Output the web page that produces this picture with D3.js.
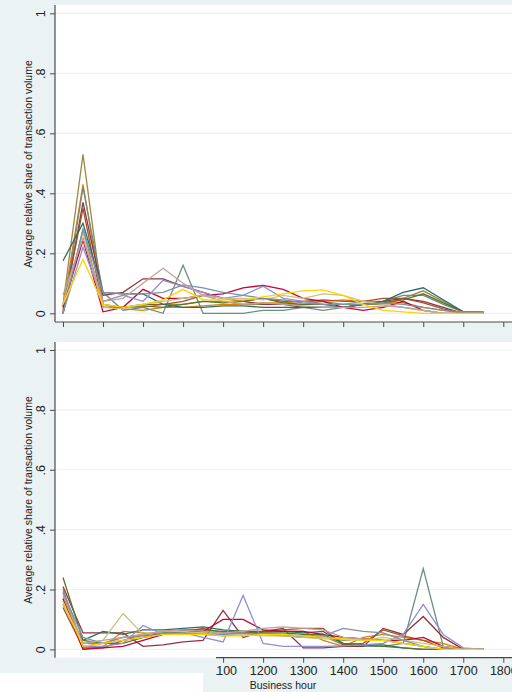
<!DOCTYPE html>
<html>
<head>
<meta charset="utf-8">
<script src="https://cdn.jsdelivr.net/npm/d3@7"></script>
<style>
  html, body { margin: 0; padding: 0; background: #ffffff; }
  svg { display: block; font-family: "Liberation Sans", Arial, sans-serif; }
</style>
</head>
<body>
<svg id="chart" width="512" height="692"></svg>
<script>
// Half-hour business slots (hhmm)
const hours = [700, 750, 800, 850, 900, 950, 1000, 1050, 1100, 1150, 1200, 1250,
               1300, 1350, 1400, 1450, 1500, 1550, 1600, 1650, 1700, 1750];
const xTicks = [700, 800, 900, 1000, 1100, 1200, 1300, 1400, 1500, 1600, 1700, 1800];
const yTicks = [0, 0.2, 0.4, 0.6, 0.8, 1];
const yTickLabels = ["0", ".2", ".4", ".6", ".8", "1"];

// Stata s2color line colours, one per series
const seriesColors = ["#9c8847", "#e37e00", "#6e8e84", "#90353b", "#a0522d", "#2d6d66",
                      "#55752f", "#c10534", "#938dd2", "#cac27e", "#7b92a8", "#bfa19c", "#ffd200"];

// Upper panel: average relative share of transaction volume by half hour
const upperBrown    = [0.03, 0.53, 0.03, 0.02, 0.02, 0.03, 0.03, 0.04, 0.04, 0.03, 0.03, 0.03, 0.03, 0.04, 0.03, 0.03, 0.03, 0.05, 0.075, 0.04, 0.005, 0.005];
const upperOrange   = [0.02, 0.43, 0.03, 0.015, 0.01, 0.02, 0.02, 0.025, 0.03, 0.03, 0.035, 0.035, 0.04, 0.04, 0.045, 0.04, 0.04, 0.035, 0.02, 0.01, 0.0, 0.0];
const upperTeal     = [0.0, 0.42, 0.07, 0.01, 0.02, 0.0, 0.16, 0.0, 0.0, 0.0, 0.01, 0.01, 0.02, 0.01, 0.02, 0.03, 0.04, 0.06, 0.06, 0.03, 0.005, 0.005];
const upperMaroon   = [0.0, 0.37, 0.06, 0.07, 0.115, 0.115, 0.09, 0.07, 0.05, 0.04, 0.03, 0.03, 0.02, 0.02, 0.02, 0.03, 0.04, 0.05, 0.04, 0.02, 0.0, 0.0];
const upperSienna   = [0.01, 0.35, 0.02, 0.02, 0.03, 0.03, 0.04, 0.06, 0.05, 0.04, 0.05, 0.04, 0.04, 0.045, 0.04, 0.04, 0.05, 0.05, 0.035, 0.015, 0.0, 0.0];
const upperEmerald  = [0.175, 0.30, 0.07, 0.065, 0.065, 0.03, 0.02, 0.02, 0.025, 0.025, 0.02, 0.02, 0.02, 0.02, 0.02, 0.03, 0.04, 0.07, 0.085, 0.045, 0.005, 0.005];
const upperGreen    = [0.0, 0.28, 0.02, 0.02, 0.025, 0.02, 0.03, 0.04, 0.035, 0.04, 0.05, 0.035, 0.03, 0.03, 0.02, 0.03, 0.035, 0.045, 0.065, 0.035, 0.005, 0.005];
const upperRed      = [0.02, 0.245, 0.005, 0.02, 0.08, 0.05, 0.05, 0.06, 0.065, 0.085, 0.093, 0.08, 0.05, 0.04, 0.02, 0.01, 0.02, 0.04, 0.01, 0.0, 0.0, 0.0];
const upperLavender = [0.0, 0.22, 0.04, 0.06, 0.04, 0.11, 0.09, 0.07, 0.05, 0.06, 0.09, 0.05, 0.04, 0.03, 0.03, 0.04, 0.03, 0.02, 0.01, 0.0, 0.0, 0.0];
const upperKhaki    = [0.03, 0.27, 0.02, 0.015, 0.03, 0.04, 0.05, 0.06, 0.05, 0.05, 0.045, 0.06, 0.05, 0.065, 0.06, 0.04, 0.03, 0.02, 0.01, 0.0, 0.0, 0.0];
const upperBlue     = [0.0, 0.28, 0.07, 0.065, 0.065, 0.07, 0.095, 0.085, 0.07, 0.06, 0.05, 0.045, 0.035, 0.03, 0.03, 0.03, 0.035, 0.03, 0.02, 0.01, 0.005, 0.005];
const upperRose     = [0.06, 0.25, 0.04, 0.05, 0.10, 0.15, 0.10, 0.06, 0.04, 0.03, 0.035, 0.03, 0.025, 0.02, 0.02, 0.02, 0.025, 0.02, 0.01, 0.0, 0.0, 0.0];
const upperGold     = [0.03, 0.18, 0.03, 0.02, 0.03, 0.045, 0.08, 0.045, 0.045, 0.045, 0.055, 0.065, 0.075, 0.078, 0.06, 0.03, 0.01, 0.005, 0.0, 0.0, 0.0, 0.0];

// Lower panel
const lowerBrown    = [0.20, 0.01, 0.02, 0.04, 0.045, 0.05, 0.055, 0.05, 0.045, 0.05, 0.05, 0.045, 0.04, 0.04, 0.03, 0.035, 0.03, 0.02, 0.01, 0.0, 0.0, 0.0];
const lowerOrange   = [0.16, 0.0, 0.01, 0.06, 0.055, 0.05, 0.06, 0.055, 0.05, 0.05, 0.06, 0.06, 0.06, 0.03, 0.01, 0.04, 0.05, 0.04, 0.03, 0.02, 0.0, 0.0];
const lowerTeal     = [0.17, 0.02, 0.02, 0.03, 0.05, 0.06, 0.065, 0.06, 0.055, 0.06, 0.055, 0.05, 0.04, 0.045, 0.015, 0.01, 0.01, 0.02, 0.27, 0.01, 0.0, 0.0];
const lowerMaroon   = [0.21, 0.055, 0.055, 0.055, 0.01, 0.015, 0.025, 0.03, 0.13, 0.04, 0.06, 0.07, 0.005, 0.005, 0.01, 0.01, 0.07, 0.05, 0.11, 0.04, 0.0, 0.0];
const lowerSienna   = [0.14, 0.005, 0.005, 0.03, 0.04, 0.05, 0.06, 0.07, 0.055, 0.055, 0.06, 0.065, 0.07, 0.07, 0.015, 0.02, 0.065, 0.045, 0.03, 0.005, 0.0, 0.0];
const lowerEmerald  = [0.15, 0.03, 0.06, 0.05, 0.065, 0.065, 0.07, 0.075, 0.065, 0.06, 0.06, 0.06, 0.055, 0.06, 0.02, 0.015, 0.015, 0.005, 0.0, 0.0, 0.0, 0.0];
const lowerGreen    = [0.24, 0.03, 0.02, 0.02, 0.04, 0.055, 0.065, 0.065, 0.06, 0.06, 0.055, 0.055, 0.05, 0.05, 0.02, 0.015, 0.01, 0.005, 0.0, 0.0, 0.0, 0.0];
const lowerRed      = [0.17, 0.0, 0.005, 0.01, 0.03, 0.05, 0.06, 0.06, 0.10, 0.10, 0.065, 0.06, 0.06, 0.05, 0.04, 0.035, 0.03, 0.03, 0.04, 0.01, 0.0, 0.0];
const lowerLavender = [0.19, 0.01, 0.01, 0.02, 0.08, 0.05, 0.055, 0.04, 0.025, 0.18, 0.02, 0.01, 0.01, 0.01, 0.012, 0.015, 0.02, 0.05, 0.15, 0.05, 0.005, 0.0];
const lowerKhaki    = [0.15, 0.02, 0.03, 0.12, 0.05, 0.06, 0.06, 0.055, 0.05, 0.05, 0.045, 0.045, 0.04, 0.035, 0.035, 0.03, 0.04, 0.03, 0.02, 0.01, 0.0, 0.0];
const lowerBlue     = [0.19, 0.04, 0.02, 0.04, 0.05, 0.055, 0.055, 0.05, 0.05, 0.055, 0.05, 0.05, 0.045, 0.045, 0.07, 0.06, 0.055, 0.03, 0.01, 0.0, 0.0, 0.0];
const lowerRose     = [0.18, 0.02, 0.03, 0.04, 0.05, 0.06, 0.065, 0.06, 0.055, 0.06, 0.07, 0.075, 0.07, 0.065, 0.04, 0.035, 0.03, 0.02, 0.01, 0.0, 0.0, 0.0];
const lowerGold     = [0.16, 0.01, 0.02, 0.03, 0.04, 0.05, 0.05, 0.05, 0.045, 0.045, 0.05, 0.05, 0.045, 0.04, 0.035, 0.03, 0.03, 0.02, 0.01, 0.0, 0.0, 0.0];

const upperSeries = [upperBrown, upperOrange, upperTeal, upperMaroon, upperSienna, upperEmerald,
                     upperGreen, upperRed, upperLavender, upperKhaki, upperBlue, upperRose, upperGold];
const lowerSeries = [lowerBrown, lowerOrange, lowerTeal, lowerMaroon, lowerSienna, lowerEmerald,
                     lowerGreen, lowerRed, lowerLavender, lowerKhaki, lowerBlue, lowerRose, lowerGold];

const W = 512, H = 692;
const bg = "#eaf2f3", axisCol = "#4a4a4a";
const svg = d3.select("#chart");

svg.append("rect").attr("width", W).attr("height", H).attr("fill", bg);

const x = d3.scaleLinear().domain([700, 1800]).range([63, 503.3]);

function panel(opts) {
  const { series, plotTop, plotBottom, y0, y1, showXLabels, titleY } = opts;
  const y = d3.scaleLinear().domain([0, 1]).range([y0, y1]);
  const g = svg.append("g");

  // plot region
  g.append("rect").attr("x", 55).attr("y", plotTop)
    .attr("width", W - 55 + 20).attr("height", plotBottom - plotTop).attr("fill", "#ffffff");

  // horizontal grid
  g.append("g").selectAll("line").data(yTicks).join("line")
    .attr("x1", 55).attr("x2", W + 20)
    .attr("y1", d => y(d)).attr("y2", d => y(d))
    .attr("stroke", bg).attr("stroke-width", 1.2);

  // series lines
  const line = d3.line().x((d, i) => x(hours[i])).y(d => y(d));
  g.append("g").selectAll("path").data(series).join("path")
    .attr("d", line)
    .attr("fill", "none")
    .attr("stroke", (d, i) => seriesColors[i])
    .attr("stroke-width", 1.3)
    .attr("stroke-linejoin", "miter");

  // y axis
  const yAxis = g.append("g").attr("transform", "translate(55,0)")
    .call(d3.axisLeft(y).tickValues(yTicks).tickSize(5).tickPadding(0).tickFormat((d, i) => yTickLabels[i]));
  yAxis.select(".domain").attr("d", `M0,${plotTop}V${plotBottom}`).attr("stroke", axisCol).attr("stroke-width", 1.2);
  yAxis.selectAll(".tick line").attr("stroke", axisCol).attr("stroke-width", 1);
  yAxis.selectAll(".tick text")
    .attr("x", null).attr("dy", null)
    .attr("transform", "translate(-10,0) rotate(-90)")
    .attr("text-anchor", "middle")
    .attr("fill", "#222")
    .style("font-size", "12.5px")
    .style("font-family", "'Liberation Sans', Arial, sans-serif");

  // x axis
  const xAxis = g.append("g").attr("transform", `translate(0,${plotBottom})`)
    .call(d3.axisBottom(x).tickValues(xTicks).tickSize(5).tickPadding(3).tickFormat(d3.format("d")));
  xAxis.select(".domain").attr("d", `M55,0H${W + 20}`).attr("stroke", axisCol).attr("stroke-width", 1.2);
  xAxis.selectAll(".tick line").attr("stroke", axisCol).attr("stroke-width", 1);
  xAxis.selectAll(".tick text")
    .attr("fill", "#222")
    .style("font-size", "12.5px")
    .style("font-family", "'Liberation Sans', Arial, sans-serif")
    .style("display", showXLabels ? null : "none");
  if (showXLabels) xAxis.attr("clip-path", "url(#xlabclip)");

  // y title
  svg.append("text")
    .attr("transform", `translate(32,${titleY}) rotate(-90)`)
    .attr("text-anchor", "middle")
    .attr("fill", "#222")
    .style("font-size", "10.5px")
    .text("Average relative share of transaction volume");
}

svg.append("defs").append("clipPath").attr("id", "xlabclip")
  .append("rect").attr("x", 216).attr("y", -20).attr("width", W).attr("height", 60);

panel({ series: upperSeries, plotTop: 5, plotBottom: 322, y0: 313.3, y1: 13.3, showXLabels: false, titleY: 164 });
panel({ series: lowerSeries, plotTop: 342, plotBottom: 657.7, y0: 649.4, y1: 350, showXLabels: true, titleY: 500 });

// white strip at lower left
svg.append("rect").attr("x", 0).attr("y", 673).attr("width", 203).attr("height", H - 673).attr("fill", "#ffffff");

// x title
svg.append("text")
  .attr("x", 283).attr("y", 689)
  .attr("text-anchor", "middle")
  .attr("fill", "#222")
  .style("font-size", "10.5px")
  .text("Business hour");
</script>
</body>
</html>
